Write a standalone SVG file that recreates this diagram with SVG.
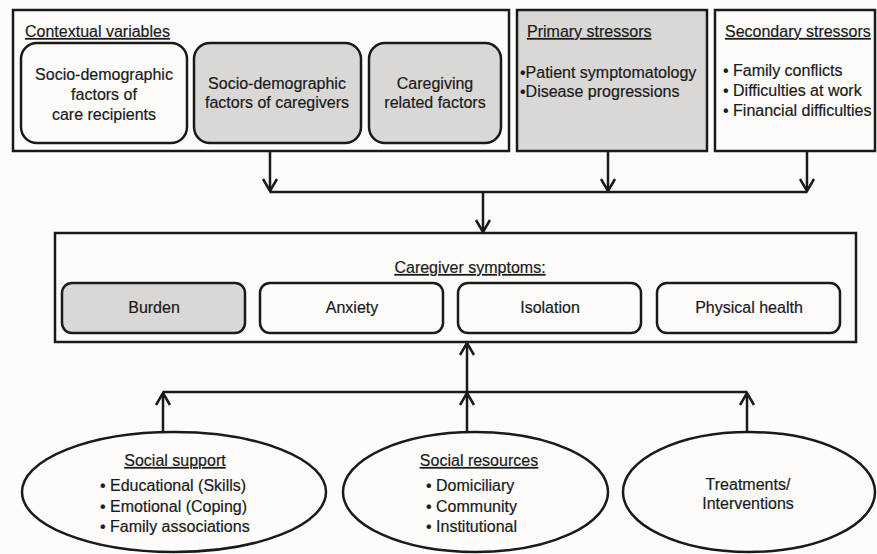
<svg xmlns="http://www.w3.org/2000/svg" width="877" height="554" viewBox="0 0 877 554">
<defs>
<style>
.box{fill:#fdfcfa;stroke:#1a1a1a;stroke-width:2.5}
.gray{fill:#d9d8d6}
.t{font-family:"Liberation Sans",Arial,sans-serif;font-size:16px;fill:#1a1a1a;stroke:#1a1a1a;stroke-width:0.2}
.c{text-anchor:middle}
.u{text-decoration:underline}
.ln{fill:none;stroke:#1a1a1a;stroke-width:2.5}
</style>
<marker id="ah" markerUnits="userSpaceOnUse" markerWidth="18" markerHeight="18" refX="15" refY="9" orient="auto">
<path d="M3,2 L15,9 L3,16" fill="none" stroke="#1a1a1a" stroke-width="2.5"/>
</marker>
</defs>
<rect width="877" height="554" fill="#fdfcfa"/>

<g id="contextual">
<rect class="box" x="13" y="10" width="496" height="141"/>
<text class="t u" x="25" y="37">Contextual variables</text>
</g>
<g id="recipients">
<rect class="box" x="21" y="43" width="166" height="100" rx="16"/>
<text class="t c" x="104" y="80">Socio-demographic</text>
<text class="t c" x="104" y="100">factors of</text>
<text class="t c" x="104" y="120">care recipients</text>
</g>
<g id="caregivers">
<rect class="box gray" x="194" y="43" width="167" height="100" rx="16"/>
<text class="t c" x="277" y="89">Socio-demographic</text>
<text class="t c" x="277" y="108">factors of caregivers</text>
</g>
<g id="caregiving">
<rect class="box gray" x="369" y="43" width="132" height="100" rx="16"/>
<text class="t c" x="435" y="89">Caregiving</text>
<text class="t c" x="435" y="108">related factors</text>
</g>
<g id="primary">
<rect class="box gray" x="517" y="10" width="190" height="141"/>
<text class="t u" x="527" y="37">Primary stressors</text>
<text class="t" x="520" y="78">•Patient symptomatology</text>
<text class="t" x="520" y="97">•Disease progressions</text>
</g>
<g id="secondary">
<rect class="box" x="715" y="10" width="160" height="141"/>
<text class="t u" x="725" y="37">Secondary stressors</text>
<text class="t" x="723" y="76">• Family conflicts</text>
<text class="t" x="723" y="96">• Difficulties at work</text>
<text class="t" x="723" y="116">• Financial difficulties</text>
</g>

<g id="symptoms">
<rect class="box" x="55" y="233" width="801" height="109"/>
<text class="t c u" x="470" y="273">Caregiver symptoms:</text>
</g>
<g id="burden">
<rect class="box gray" x="62" y="283" width="183" height="50" rx="10"/>
<text class="t c" x="154" y="313">Burden</text>
</g>
<g id="anxiety">
<rect class="box" x="260" y="283" width="183" height="50" rx="10"/>
<text class="t c" x="352" y="313">Anxiety</text>
</g>
<g id="isolation">
<rect class="box" x="458" y="283" width="183" height="50" rx="10"/>
<text class="t c" x="550" y="313">Isolation</text>
</g>
<g id="physical">
<rect class="box" x="657" y="283" width="183" height="50" rx="10"/>
<text class="t c" x="749" y="313">Physical health</text>
</g>

<g id="social-support">
<ellipse class="box" cx="174" cy="492" rx="152" ry="60"/>
<text class="t c u" x="175" y="466">Social support</text>
<text class="t" x="100" y="491">• Educational (Skills)</text>
<text class="t" x="100" y="512">• Emotional (Coping)</text>
<text class="t" x="100" y="532">• Family associations</text>
</g>
<g id="social-resources">
<ellipse class="box" cx="475.5" cy="492" rx="132.5" ry="60"/>
<text class="t c u" x="479" y="466">Social resources</text>
<text class="t" x="426" y="491">• Domiciliary</text>
<text class="t" x="426" y="512">• Community</text>
<text class="t" x="426" y="532">• Institutional</text>
</g>
<g id="treatments">
<ellipse class="box" cx="749" cy="492" rx="126" ry="60"/>
<text class="t c" x="748" y="490">Treatments/</text>
<text class="t c" x="748" y="509">Interventions</text>
</g>

<g id="connectors">
<path class="ln" d="M270,151 V191" marker-end="url(#ah)"/>
<path class="ln" d="M608,151 V191" marker-end="url(#ah)"/>
<path class="ln" d="M807,151 V191" marker-end="url(#ah)"/>
<path class="ln" d="M270,192 H807"/>
<path class="ln" d="M483,192 V232" marker-end="url(#ah)"/>
<path class="ln" d="M163,432 V393" marker-end="url(#ah)"/>
<path class="ln" d="M467,432 V393" marker-end="url(#ah)"/>
<path class="ln" d="M747,432 V393" marker-end="url(#ah)"/>
<path class="ln" d="M163,392 H747"/>
<path class="ln" d="M467,392 V343" marker-end="url(#ah)"/>
</g>
</svg>
